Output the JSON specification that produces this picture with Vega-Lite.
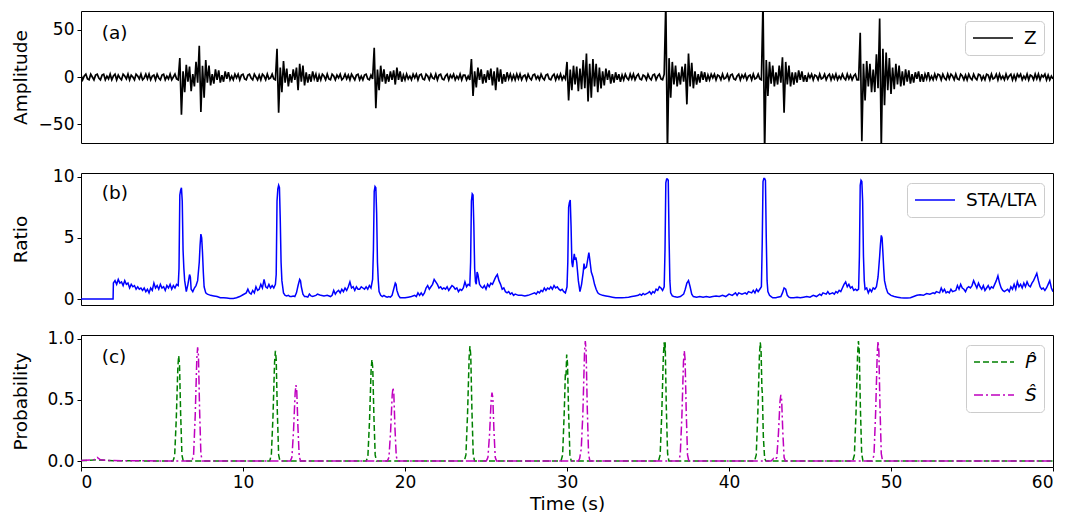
{
"$schema": "https://vega.github.io/schema/vega-lite/v6.json",
"padding": {"left": 10, "top": 10, "right": 8, "bottom": 0},
"background": "white",
"config": {
  "font": "DejaVu Sans",
  "view": {"stroke": "black", "strokeWidth": 1},
  "axis": {"labelFontSize": 17, "titleFontSize": 18.5, "titleFontWeight": "normal", "labelColor": "black", "titleColor": "black", "tickColor": "black", "domain": false, "grid": false, "tickSize": 4, "labelPadding": 3, "labelFont": "DejaVu Sans", "titleFont": "DejaVu Sans"},
  "legend": {"orient": "top-right", "offset": 9.5, "labelFontSize": 18.5, "labelFont": "DejaVu Sans", "labelColor": "black", "symbolType": "stroke", "symbolSize": 1600, "symbolStrokeWidth": 1.5, "labelOffset": 10, "padding": 7, "clipHeight": 20, "rowPadding": 13, "fillColor": "rgba(255,255,255,0.8)", "strokeColor": "#cccccc", "cornerRadius": 4},
  "text": {"font": "DejaVu Sans"}
},
"datasets": {
"wave": [
{"t":0,"z":2},{"t":0.1,"z":-3},{"t":0.2,"z":1},{"t":0.3,"z":3},{"t":0.4,"z":-2},{"t":0.5,"z":-3},{"t":0.6,"z":3},{"t":0.7,"z":0},{"t":0.8,"z":-3},{"t":0.9,"z":2},
{"t":1,"z":3},{"t":1.1,"z":-1},{"t":1.2,"z":-3},{"t":1.3,"z":2},{"t":1.4,"z":3},{"t":1.5,"z":-3},{"t":1.6,"z":1},{"t":1.7,"z":-2},{"t":1.8,"z":3},{"t":1.9,"z":-3},
{"t":2,"z":1},{"t":2.1,"z":3},{"t":2.2,"z":-3},{"t":2.3,"z":2},{"t":2.4,"z":-1},{"t":2.5,"z":-3},{"t":2.6,"z":3},{"t":2.7,"z":1},{"t":2.8,"z":-2},{"t":2.9,"z":3},
{"t":3,"z":-3},{"t":3.1,"z":2},{"t":3.2,"z":0},{"t":3.3,"z":-3},{"t":3.4,"z":3},{"t":3.5,"z":1},{"t":3.6,"z":-2},{"t":3.7,"z":3},{"t":3.8,"z":-3},{"t":3.9,"z":-1},
{"t":4,"z":3},{"t":4.1,"z":-2},{"t":4.2,"z":3},{"t":4.3,"z":-3},{"t":4.4,"z":1},{"t":4.5,"z":2},{"t":4.6,"z":-3},{"t":4.7,"z":3},{"t":4.8,"z":-1},{"t":4.9,"z":-3},
{"t":5,"z":2},{"t":5.1,"z":3},{"t":5.2,"z":-3},{"t":5.3,"z":1},{"t":5.4,"z":-2},{"t":5.5,"z":3},{"t":5.6,"z":-3},{"t":5.7,"z":0},{"t":5.8,"z":3},{"t":5.9,"z":-2},
{"t":6,"z":-3},{"t":6.1,"z":20},{"t":6.2,"z":-40},{"t":6.3,"z":6},{"t":6.4,"z":-16},{"t":6.5,"z":13},{"t":6.6,"z":-5},{"t":6.7,"z":11},{"t":6.8,"z":-15},{"t":6.9,"z":3},
{"t":7,"z":-10},{"t":7.1,"z":16},{"t":7.2,"z":-6},{"t":7.3,"z":33},{"t":7.4,"z":-37},{"t":7.5,"z":12},{"t":7.6,"z":-22},{"t":7.7,"z":18},{"t":7.8,"z":-6},{"t":7.9,"z":12},
{"t":8,"z":-9},{"t":8.1,"z":3},{"t":8.2,"z":-7},{"t":8.3,"z":8},{"t":8.4,"z":-3},{"t":8.5,"z":7},{"t":8.6,"z":-6},{"t":8.7,"z":2},{"t":8.8,"z":-5},{"t":8.9,"z":6},
{"t":9,"z":-2},{"t":9.1,"z":5},{"t":9.2,"z":-3},{"t":9.3,"z":1},{"t":9.4,"z":-3},{"t":9.5,"z":3},{"t":9.6,"z":-1},{"t":9.7,"z":3},{"t":9.8,"z":-3},{"t":9.9,"z":2},
{"t":10,"z":3},{"t":10.1,"z":-2},{"t":10.2,"z":-3},{"t":10.3,"z":2},{"t":10.4,"z":3},{"t":10.5,"z":-1},{"t":10.6,"z":-3},{"t":10.7,"z":3},{"t":10.8,"z":0},{"t":10.9,"z":-3},
{"t":11,"z":2},{"t":11.1,"z":-3},{"t":11.2,"z":3},{"t":11.3,"z":1},{"t":11.4,"z":-3},{"t":11.5,"z":3},{"t":11.6,"z":-2},{"t":11.7,"z":-1},{"t":11.8,"z":3},{"t":11.9,"z":-2},
{"t":12,"z":-3},{"t":12.1,"z":30},{"t":12.2,"z":-38},{"t":12.3,"z":10},{"t":12.4,"z":-16},{"t":12.5,"z":17},{"t":12.6,"z":-6},{"t":12.7,"z":9},{"t":12.8,"z":-10},{"t":12.9,"z":3},
{"t":13,"z":-6},{"t":13.1,"z":8},{"t":13.2,"z":-3},{"t":13.3,"z":10},{"t":13.4,"z":-14},{"t":13.5,"z":14},{"t":13.6,"z":-5},{"t":13.7,"z":12},{"t":13.8,"z":-9},{"t":13.9,"z":5},
{"t":14,"z":-6},{"t":14.1,"z":3},{"t":14.2,"z":-5},{"t":14.3,"z":6},{"t":14.4,"z":-2},{"t":14.5,"z":3},{"t":14.6,"z":-5},{"t":14.7,"z":2},{"t":14.8,"z":-3},{"t":14.9,"z":3},
{"t":15,"z":1},{"t":15.1,"z":-3},{"t":15.2,"z":3},{"t":15.3,"z":-2},{"t":15.4,"z":-3},{"t":15.5,"z":3},{"t":15.6,"z":1},{"t":15.7,"z":-3},{"t":15.8,"z":2},{"t":15.9,"z":-1},
{"t":16,"z":3},{"t":16.1,"z":-3},{"t":16.2,"z":-1},{"t":16.3,"z":3},{"t":16.4,"z":-2},{"t":16.5,"z":2},{"t":16.6,"z":-3},{"t":16.7,"z":3},{"t":16.8,"z":0},{"t":16.9,"z":-3},
{"t":17,"z":2},{"t":17.1,"z":3},{"t":17.2,"z":-3},{"t":17.3,"z":1},{"t":17.4,"z":-3},{"t":17.5,"z":2},{"t":17.6,"z":3},{"t":17.7,"z":-2},{"t":17.8,"z":-3},{"t":17.9,"z":2},
{"t":18,"z":-2},{"t":18.1,"z":31},{"t":18.2,"z":-33},{"t":18.3,"z":8},{"t":18.4,"z":-14},{"t":18.5,"z":12},{"t":18.6,"z":-5},{"t":18.7,"z":8},{"t":18.8,"z":-7},{"t":18.9,"z":3},
{"t":19,"z":-5},{"t":19.1,"z":6},{"t":19.2,"z":-3},{"t":19.3,"z":7},{"t":19.4,"z":-8},{"t":19.5,"z":10},{"t":19.6,"z":-3},{"t":19.7,"z":6},{"t":19.8,"z":-5},{"t":19.9,"z":2},
{"t":20,"z":-3},{"t":20.1,"z":3},{"t":20.2,"z":-2},{"t":20.3,"z":1},{"t":20.4,"z":-3},{"t":20.5,"z":3},{"t":20.6,"z":-1},{"t":20.7,"z":3},{"t":20.8,"z":-3},{"t":20.9,"z":2},
{"t":21,"z":3},{"t":21.1,"z":-2},{"t":21.2,"z":-3},{"t":21.3,"z":3},{"t":21.4,"z":1},{"t":21.5,"z":-3},{"t":21.6,"z":3},{"t":21.7,"z":-1},{"t":21.8,"z":-2},{"t":21.9,"z":3},
{"t":22,"z":-3},{"t":22.1,"z":2},{"t":22.2,"z":3},{"t":22.3,"z":-2},{"t":22.4,"z":-3},{"t":22.5,"z":1},{"t":22.6,"z":3},{"t":22.7,"z":-3},{"t":22.8,"z":2},{"t":22.9,"z":-1},
{"t":23,"z":3},{"t":23.1,"z":-3},{"t":23.2,"z":1},{"t":23.3,"z":-2},{"t":23.4,"z":3},{"t":23.5,"z":-3},{"t":23.6,"z":2},{"t":23.7,"z":2},{"t":23.8,"z":-3},{"t":23.9,"z":1},
{"t":24,"z":-3},{"t":24.1,"z":19},{"t":24.2,"z":-20},{"t":24.3,"z":6},{"t":24.4,"z":-11},{"t":24.5,"z":10},{"t":24.6,"z":-3},{"t":24.7,"z":8},{"t":24.8,"z":-7},{"t":24.9,"z":3},
{"t":25,"z":-6},{"t":25.1,"z":7},{"t":25.2,"z":-3},{"t":25.3,"z":9},{"t":25.4,"z":-9},{"t":25.5,"z":6},{"t":25.6,"z":-14},{"t":25.7,"z":10},{"t":25.8,"z":-5},{"t":25.9,"z":8},
{"t":26,"z":-7},{"t":26.1,"z":3},{"t":26.2,"z":-5},{"t":26.3,"z":5},{"t":26.4,"z":-2},{"t":26.5,"z":3},{"t":26.6,"z":-3},{"t":26.7,"z":2},{"t":26.8,"z":-3},{"t":26.9,"z":3},
{"t":27,"z":-2},{"t":27.1,"z":3},{"t":27.2,"z":-3},{"t":27.3,"z":1},{"t":27.4,"z":2},{"t":27.5,"z":-3},{"t":27.6,"z":3},{"t":27.7,"z":-1},{"t":27.8,"z":-3},{"t":27.9,"z":2},
{"t":28,"z":3},{"t":28.1,"z":-2},{"t":28.2,"z":1},{"t":28.3,"z":-3},{"t":28.4,"z":3},{"t":28.5,"z":-1},{"t":28.6,"z":-3},{"t":28.7,"z":2},{"t":28.8,"z":3},{"t":28.9,"z":-2},
{"t":29,"z":-3},{"t":29.1,"z":1},{"t":29.2,"z":3},{"t":29.3,"z":-3},{"t":29.4,"z":2},{"t":29.5,"z":-2},{"t":29.6,"z":3},{"t":29.7,"z":-3},{"t":29.8,"z":1},{"t":29.9,"z":-2},
{"t":30,"z":16},{"t":30.1,"z":-25},{"t":30.2,"z":8},{"t":30.3,"z":-14},{"t":30.4,"z":12},{"t":30.5,"z":-8},{"t":30.6,"z":11},{"t":30.7,"z":-15},{"t":30.8,"z":9},{"t":30.9,"z":-13},
{"t":31,"z":18},{"t":31.1,"z":-12},{"t":31.2,"z":25},{"t":31.3,"z":-26},{"t":31.4,"z":14},{"t":31.5,"z":-22},{"t":31.6,"z":19},{"t":31.7,"z":-10},{"t":31.8,"z":14},{"t":31.9,"z":-16},
{"t":32,"z":10},{"t":32.1,"z":-12},{"t":32.2,"z":6},{"t":32.3,"z":-9},{"t":32.4,"z":9},{"t":32.5,"z":-3},{"t":32.6,"z":7},{"t":32.7,"z":-7},{"t":32.8,"z":3},{"t":32.9,"z":-6},
{"t":33,"z":5},{"t":33.1,"z":-3},{"t":33.2,"z":3},{"t":33.3,"z":-5},{"t":33.4,"z":2},{"t":33.5,"z":-3},{"t":33.6,"z":3},{"t":33.7,"z":-1},{"t":33.8,"z":-3},{"t":33.9,"z":3},
{"t":34,"z":-2},{"t":34.1,"z":3},{"t":34.2,"z":-3},{"t":34.3,"z":1},{"t":34.4,"z":3},{"t":34.5,"z":-2},{"t":34.6,"z":-3},{"t":34.7,"z":2},{"t":34.8,"z":1},{"t":34.9,"z":-3},
{"t":35,"z":3},{"t":35.1,"z":-1},{"t":35.2,"z":-3},{"t":35.3,"z":2},{"t":35.4,"z":3},{"t":35.5,"z":-3},{"t":35.6,"z":1},{"t":35.7,"z":3},{"t":35.8,"z":-2},{"t":35.9,"z":-3},
{"t":36,"z":3},{"t":36.1,"z":80},{"t":36.2,"z":-80},{"t":36.3,"z":20},{"t":36.4,"z":-22},{"t":36.5,"z":16},{"t":36.6,"z":-8},{"t":36.7,"z":12},{"t":36.8,"z":-10},{"t":36.9,"z":5},
{"t":37,"z":-8},{"t":37.1,"z":11},{"t":37.2,"z":-5},{"t":37.3,"z":14},{"t":37.4,"z":-29},{"t":37.5,"z":25},{"t":37.6,"z":-10},{"t":37.7,"z":15},{"t":37.8,"z":-12},{"t":37.9,"z":6},
{"t":38,"z":-8},{"t":38.1,"z":3},{"t":38.2,"z":-6},{"t":38.3,"z":6},{"t":38.4,"z":-3},{"t":38.5,"z":5},{"t":38.6,"z":-5},{"t":38.7,"z":2},{"t":38.8,"z":-3},{"t":38.9,"z":3},
{"t":39,"z":-1},{"t":39.1,"z":3},{"t":39.2,"z":-3},{"t":39.3,"z":2},{"t":39.4,"z":1},{"t":39.5,"z":-3},{"t":39.6,"z":3},{"t":39.7,"z":-2},{"t":39.8,"z":-1},{"t":39.9,"z":3},
{"t":40,"z":-3},{"t":40.1,"z":2},{"t":40.2,"z":3},{"t":40.3,"z":-2},{"t":40.4,"z":-3},{"t":40.5,"z":1},{"t":40.6,"z":3},{"t":40.7,"z":-3},{"t":40.8,"z":2},{"t":40.9,"z":-1},
{"t":41,"z":3},{"t":41.1,"z":-3},{"t":41.2,"z":1},{"t":41.3,"z":2},{"t":41.4,"z":-3},{"t":41.5,"z":3},{"t":41.6,"z":-2},{"t":41.7,"z":-1},{"t":41.8,"z":3},{"t":41.9,"z":-2},
{"t":42,"z":-3},{"t":42.1,"z":80},{"t":42.2,"z":-80},{"t":42.3,"z":18},{"t":42.4,"z":-20},{"t":42.5,"z":16},{"t":42.6,"z":-7},{"t":42.7,"z":12},{"t":42.8,"z":-10},{"t":42.9,"z":5},
{"t":43,"z":-8},{"t":43.1,"z":12},{"t":43.2,"z":-6},{"t":43.3,"z":21},{"t":43.4,"z":-38},{"t":43.5,"z":16},{"t":43.6,"z":-8},{"t":43.7,"z":12},{"t":43.8,"z":-10},{"t":43.9,"z":5},
{"t":44,"z":-8},{"t":44.1,"z":5},{"t":44.2,"z":-6},{"t":44.3,"z":7},{"t":44.4,"z":-3},{"t":44.5,"z":6},{"t":44.6,"z":-5},{"t":44.7,"z":2},{"t":44.8,"z":-5},{"t":44.9,"z":3},
{"t":45,"z":-1},{"t":45.1,"z":3},{"t":45.2,"z":-3},{"t":45.3,"z":2},{"t":45.4,"z":1},{"t":45.5,"z":-3},{"t":45.6,"z":3},{"t":45.7,"z":-2},{"t":45.8,"z":-1},{"t":45.9,"z":3},
{"t":46,"z":-3},{"t":46.1,"z":1},{"t":46.2,"z":3},{"t":46.3,"z":-3},{"t":46.4,"z":2},{"t":46.5,"z":-2},{"t":46.6,"z":3},{"t":46.7,"z":-3},{"t":46.8,"z":1},{"t":46.9,"z":-2},
{"t":47,"z":3},{"t":47.1,"z":-1},{"t":47.2,"z":-3},{"t":47.3,"z":3},{"t":47.4,"z":-2},{"t":47.5,"z":2},{"t":47.6,"z":-3},{"t":47.7,"z":1},{"t":47.8,"z":3},{"t":47.9,"z":-3},
{"t":48,"z":-3},{"t":48.1,"z":47},{"t":48.2,"z":-68},{"t":48.3,"z":14},{"t":48.4,"z":-25},{"t":48.5,"z":17},{"t":48.6,"z":-10},{"t":48.7,"z":14},{"t":48.8,"z":-16},{"t":48.9,"z":8},
{"t":49,"z":-16},{"t":49.1,"z":24},{"t":49.2,"z":-12},{"t":49.3,"z":62},{"t":49.4,"z":-75},{"t":49.5,"z":30},{"t":49.6,"z":-30},{"t":49.7,"z":26},{"t":49.8,"z":-14},{"t":49.9,"z":20},
{"t":50,"z":-18},{"t":50.1,"z":10},{"t":50.2,"z":-13},{"t":50.3,"z":14},{"t":50.4,"z":-8},{"t":50.5,"z":12},{"t":50.6,"z":-10},{"t":50.7,"z":6},{"t":50.8,"z":-9},{"t":50.9,"z":8},
{"t":51,"z":-5},{"t":51.1,"z":7},{"t":51.2,"z":-7},{"t":51.3,"z":3},{"t":51.4,"z":-6},{"t":51.5,"z":5},{"t":51.6,"z":-2},{"t":51.7,"z":6},{"t":51.8,"z":-5},{"t":51.9,"z":3},
{"t":52,"z":-5},{"t":52.1,"z":3},{"t":52.2,"z":-2},{"t":52.3,"z":5},{"t":52.4,"z":-3},{"t":52.5,"z":1},{"t":52.6,"z":-3},{"t":52.7,"z":3},{"t":52.8,"z":-2},{"t":52.9,"z":3},
{"t":53,"z":2},{"t":53.1,"z":-3},{"t":53.2,"z":3},{"t":53.3,"z":-1},{"t":53.4,"z":-3},{"t":53.5,"z":3},{"t":53.6,"z":-2},{"t":53.7,"z":3},{"t":53.8,"z":1},{"t":53.9,"z":-3},
{"t":54,"z":3},{"t":54.1,"z":-2},{"t":54.2,"z":-3},{"t":54.3,"z":3},{"t":54.4,"z":1},{"t":54.5,"z":-3},{"t":54.6,"z":2},{"t":54.7,"z":-3},{"t":54.8,"z":3},{"t":54.9,"z":-1},
{"t":55,"z":-3},{"t":55.1,"z":3},{"t":55.2,"z":-1},{"t":55.3,"z":-3},{"t":55.4,"z":3},{"t":55.5,"z":2},{"t":55.6,"z":-3},{"t":55.7,"z":1},{"t":55.8,"z":-3},{"t":55.9,"z":3},
{"t":56,"z":2},{"t":56.1,"z":-3},{"t":56.2,"z":3},{"t":56.3,"z":-2},{"t":56.4,"z":-1},{"t":56.5,"z":3},{"t":56.6,"z":-3},{"t":56.7,"z":3},{"t":56.8,"z":-2},{"t":56.9,"z":1},
{"t":57,"z":-3},{"t":57.1,"z":3},{"t":57.2,"z":-2},{"t":57.3,"z":1},{"t":57.4,"z":3},{"t":57.5,"z":-3},{"t":57.6,"z":2},{"t":57.7,"z":-3},{"t":57.8,"z":3},{"t":57.9,"z":0},
{"t":58,"z":3},{"t":58.1,"z":-3},{"t":58.2,"z":1},{"t":58.3,"z":-2},{"t":58.4,"z":3},{"t":58.5,"z":-3},{"t":58.6,"z":2},{"t":58.7,"z":1},{"t":58.8,"z":-3},{"t":58.9,"z":3},
{"t":59,"z":-2},{"t":59.1,"z":3},{"t":59.2,"z":-3},{"t":59.3,"z":2},{"t":59.4,"z":0},{"t":59.5,"z":3},{"t":59.6,"z":-3},{"t":59.7,"z":2},{"t":59.8,"z":-3},{"t":59.9,"z":1},
{"t":60,"z":-2}
],
"sta": [
{"t":0,"r":0},{"t":1.98,"r":0},{"t":2.0,"r":1.3},{"t":2.1,"r":1.5},{"t":2.2,"r":1.2},{"t":2.3,"r":1.6},{"t":2.4,"r":1.3},{"t":2.5,"r":1.4},{"t":2.6,"r":1.1},{"t":2.7,"r":1.5},{"t":2.8,"r":1.2},{"t":2.9,"r":1.3},
{"t":3.0,"r":0.9},{"t":3.1,"r":1.2},{"t":3.2,"r":1.0},{"t":3.3,"r":1.1},{"t":3.4,"r":0.8},{"t":3.5,"r":1.0},{"t":3.6,"r":0.8},{"t":3.7,"r":0.9},{"t":3.8,"r":0.7},{"t":3.9,"r":0.9},
{"t":4.0,"r":0.6},{"t":4.1,"r":0.8},{"t":4.2,"r":0.5},{"t":4.3,"r":0.9},{"t":4.4,"r":0.7},{"t":4.5,"r":1.3},{"t":4.6,"r":0.9},{"t":4.7,"r":1.1},{"t":4.8,"r":0.8},{"t":4.9,"r":1.2},
{"t":5.0,"r":0.9},{"t":5.1,"r":1.0},{"t":5.2,"r":0.7},{"t":5.3,"r":1.1},{"t":5.4,"r":0.9},{"t":5.5,"r":1.2},{"t":5.6,"r":0.8},{"t":5.7,"r":1.1},{"t":5.8,"r":0.9},{"t":5.9,"r":1.2},
{"t":6.0,"r":1.1},{"t":6.05,"r":2.5},{"t":6.1,"r":8.5},{"t":6.15,"r":8.9},{"t":6.2,"r":9.1},{"t":6.25,"r":8.0},{"t":6.3,"r":4.0},{"t":6.35,"r":2.5},{"t":6.4,"r":1.5},{"t":6.5,"r":0.6},{"t":6.6,"r":1.2},{"t":6.7,"r":2.0},{"t":6.75,"r":1.8},{"t":6.8,"r":0.8},{"t":6.9,"r":0.6},
{"t":7.0,"r":0.9},{"t":7.1,"r":1.1},{"t":7.2,"r":1.5},{"t":7.3,"r":3.0},{"t":7.35,"r":4.4},{"t":7.4,"r":5.3},{"t":7.45,"r":5.0},{"t":7.5,"r":3.8},{"t":7.55,"r":2.2},{"t":7.6,"r":1.0},{"t":7.7,"r":0.5},{"t":7.8,"r":0.4},
{"t":8.0,"r":0.3},{"t":8.2,"r":0.25},{"t":8.4,"r":0.2},{"t":8.6,"r":0.1},{"t":8.8,"r":0.1},{"t":9.0,"r":0.08},{"t":9.2,"r":0.05},{"t":9.4,"r":0.05},{"t":9.6,"r":0.1},{"t":9.8,"r":0.2},
{"t":10.0,"r":0.35},{"t":10.2,"r":0.5},{"t":10.3,"r":0.8},{"t":10.4,"r":0.5},{"t":10.5,"r":0.4},{"t":10.6,"r":0.7},{"t":10.7,"r":0.5},{"t":10.8,"r":1.0},{"t":10.9,"r":0.7},
{"t":11.0,"r":0.8},{"t":11.1,"r":1.2},{"t":11.2,"r":0.9},{"t":11.3,"r":1.6},{"t":11.4,"r":1.0},{"t":11.5,"r":0.9},{"t":11.6,"r":1.2},{"t":11.7,"r":0.9},{"t":11.8,"r":1.1},{"t":11.9,"r":0.9},
{"t":12.0,"r":1.2},{"t":12.05,"r":2.0},{"t":12.1,"r":8.0},{"t":12.15,"r":9.0},{"t":12.2,"r":9.3},{"t":12.25,"r":9.1},{"t":12.3,"r":6.5},{"t":12.35,"r":3.0},{"t":12.4,"r":1.5},{"t":12.5,"r":0.5},{"t":12.6,"r":0.3},{"t":12.7,"r":0.25},{"t":12.8,"r":0.3},{"t":12.9,"r":0.2},
{"t":13.0,"r":0.2},{"t":13.1,"r":0.25},{"t":13.2,"r":0.2},{"t":13.3,"r":0.5},{"t":13.4,"r":1.1},{"t":13.5,"r":1.6},{"t":13.55,"r":1.5},{"t":13.6,"r":1.0},{"t":13.7,"r":0.4},{"t":13.8,"r":0.2},{"t":13.9,"r":0.2},
{"t":14.0,"r":0.15},{"t":14.1,"r":0.4},{"t":14.2,"r":0.25},{"t":14.3,"r":0.2},{"t":14.5,"r":0.3},{"t":14.6,"r":0.4},{"t":14.7,"r":0.35},{"t":14.8,"r":0.3},{"t":15.0,"r":0.25},{"t":15.2,"r":0.3},{"t":15.4,"r":0.2},{"t":15.5,"r":0.3},{"t":15.6,"r":0.7},{"t":15.7,"r":0.4},{"t":15.8,"r":0.6},{"t":15.9,"r":0.7},
{"t":16.0,"r":0.5},{"t":16.1,"r":0.8},{"t":16.2,"r":0.6},{"t":16.3,"r":0.9},{"t":16.4,"r":0.7},{"t":16.5,"r":1.0},{"t":16.6,"r":1.4},{"t":16.7,"r":0.9},{"t":16.8,"r":1.0},{"t":16.9,"r":0.7},
{"t":17.0,"r":1.0},{"t":17.1,"r":0.8},{"t":17.2,"r":0.8},{"t":17.3,"r":1.0},{"t":17.4,"r":0.9},{"t":17.5,"r":0.8},{"t":17.6,"r":1.0},{"t":17.7,"r":0.8},{"t":17.8,"r":1.1},{"t":17.9,"r":0.9},
{"t":18.0,"r":1.6},{"t":18.05,"r":4.0},{"t":18.1,"r":8.8},{"t":18.15,"r":9.2},{"t":18.2,"r":9.1},{"t":18.25,"r":7.0},{"t":18.3,"r":3.0},{"t":18.35,"r":1.5},{"t":18.4,"r":0.6},{"t":18.5,"r":0.3},{"t":18.6,"r":0.2},{"t":18.7,"r":0.3},{"t":18.8,"r":0.2},{"t":18.9,"r":0.15},
{"t":19.0,"r":0.2},{"t":19.1,"r":0.15},{"t":19.2,"r":0.3},{"t":19.3,"r":0.8},{"t":19.4,"r":1.3},{"t":19.45,"r":1.2},{"t":19.5,"r":0.7},{"t":19.6,"r":0.3},{"t":19.7,"r":0.1},{"t":19.8,"r":0.1},
{"t":20.0,"r":0.1},{"t":20.2,"r":0.15},{"t":20.4,"r":0.2},{"t":20.6,"r":0.3},{"t":20.7,"r":0.2},{"t":20.8,"r":0.5},{"t":20.9,"r":0.3},{"t":21.0,"r":0.5},{"t":21.1,"r":0.3},{"t":21.2,"r":0.5},{"t":21.3,"r":0.9},{"t":21.4,"r":1.1},{"t":21.5,"r":0.8},{"t":21.6,"r":1.0},{"t":21.7,"r":1.2},{"t":21.8,"r":1.6},{"t":21.9,"r":1.4},
{"t":22.0,"r":1.2},{"t":22.1,"r":0.9},{"t":22.2,"r":1.0},{"t":22.3,"r":0.8},{"t":22.4,"r":0.9},{"t":22.5,"r":0.8},{"t":22.6,"r":1.0},{"t":22.7,"r":0.7},{"t":22.8,"r":0.9},{"t":22.9,"r":1.1},
{"t":23.0,"r":1.0},{"t":23.1,"r":0.8},{"t":23.2,"r":0.9},{"t":23.3,"r":0.6},{"t":23.4,"r":0.8},{"t":23.5,"r":0.7},{"t":23.6,"r":0.9},{"t":23.7,"r":1.4},{"t":23.8,"r":1.0},{"t":23.9,"r":1.2},
{"t":24.0,"r":1.1},{"t":24.05,"r":3.0},{"t":24.1,"r":8.0},{"t":24.15,"r":8.6},{"t":24.2,"r":8.5},{"t":24.25,"r":6.0},{"t":24.3,"r":2.5},{"t":24.35,"r":1.4},{"t":24.4,"r":1.2},{"t":24.45,"r":2.2},{"t":24.5,"r":2.0},{"t":24.6,"r":1.2},{"t":24.7,"r":1.0},{"t":24.8,"r":0.9},{"t":24.9,"r":1.1},
{"t":25.0,"r":0.8},{"t":25.1,"r":1.2},{"t":25.2,"r":1.0},{"t":25.3,"r":1.3},{"t":25.4,"r":1.2},{"t":25.5,"r":1.5},{"t":25.6,"r":1.8},{"t":25.7,"r":2.0},{"t":25.8,"r":1.5},{"t":25.9,"r":1.2},
{"t":26.0,"r":0.8},{"t":26.1,"r":0.9},{"t":26.2,"r":0.6},{"t":26.3,"r":0.5},{"t":26.4,"r":0.6},{"t":26.5,"r":0.4},{"t":26.6,"r":0.5},{"t":26.7,"r":0.3},{"t":26.8,"r":0.4},{"t":27.0,"r":0.3},{"t":27.2,"r":0.3},{"t":27.4,"r":0.25},{"t":27.6,"r":0.3},{"t":27.8,"r":0.4},
{"t":28.0,"r":0.5},{"t":28.1,"r":0.4},{"t":28.2,"r":0.6},{"t":28.3,"r":0.5},{"t":28.4,"r":0.7},{"t":28.5,"r":0.6},{"t":28.6,"r":0.9},{"t":28.7,"r":0.7},{"t":28.8,"r":0.9},{"t":28.9,"r":0.8},
{"t":29.0,"r":1.0},{"t":29.1,"r":0.8},{"t":29.2,"r":1.1},{"t":29.3,"r":0.9},{"t":29.4,"r":1.0},{"t":29.5,"r":0.8},{"t":29.6,"r":0.7},{"t":29.7,"r":0.8},{"t":29.8,"r":0.6},{"t":29.9,"r":0.5},
{"t":30.0,"r":1.0},{"t":30.05,"r":3.0},{"t":30.1,"r":7.5},{"t":30.15,"r":7.9},{"t":30.2,"r":8.1},{"t":30.25,"r":6.0},{"t":30.3,"r":3.0},{"t":30.35,"r":2.6},{"t":30.4,"r":3.2},{"t":30.45,"r":3.7},{"t":30.5,"r":3.2},{"t":30.55,"r":3.4},{"t":30.6,"r":3.0},{"t":30.7,"r":1.5},{"t":30.8,"r":0.6},{"t":30.9,"r":1.2},
{"t":31.0,"r":2.2},{"t":31.05,"r":2.9},{"t":31.1,"r":2.5},{"t":31.2,"r":2.6},{"t":31.3,"r":3.4},{"t":31.35,"r":3.8},{"t":31.4,"r":3.3},{"t":31.5,"r":2.2},{"t":31.6,"r":1.8},{"t":31.7,"r":1.2},{"t":31.8,"r":0.8},{"t":31.9,"r":0.5},
{"t":32.0,"r":0.4},{"t":32.2,"r":0.3},{"t":32.4,"r":0.25},{"t":32.6,"r":0.2},{"t":32.8,"r":0.15},{"t":33.0,"r":0.1},{"t":33.2,"r":0.1},{"t":33.4,"r":0.1},{"t":33.6,"r":0.12},{"t":33.8,"r":0.15},
{"t":34.0,"r":0.2},{"t":34.2,"r":0.25},{"t":34.4,"r":0.3},{"t":34.5,"r":0.4},{"t":34.6,"r":0.3},{"t":34.7,"r":0.45},{"t":34.8,"r":0.35},{"t":35.0,"r":0.5},{"t":35.1,"r":0.6},{"t":35.2,"r":0.4},{"t":35.3,"r":0.6},{"t":35.4,"r":0.5},{"t":35.5,"r":0.8},{"t":35.6,"r":0.7},{"t":35.7,"r":1.0},{"t":35.8,"r":0.9},{"t":35.9,"r":0.7},
{"t":36.0,"r":1.0},{"t":36.05,"r":4.0},{"t":36.1,"r":9.5},{"t":36.15,"r":9.8},{"t":36.2,"r":9.8},{"t":36.25,"r":9.7},{"t":36.3,"r":5.0},{"t":36.35,"r":1.5},{"t":36.4,"r":0.5},{"t":36.5,"r":0.25},{"t":36.6,"r":0.2},{"t":36.8,"r":0.15},
{"t":37.0,"r":0.2},{"t":37.2,"r":0.4},{"t":37.3,"r":0.8},{"t":37.4,"r":1.3},{"t":37.5,"r":1.5},{"t":37.6,"r":1.0},{"t":37.7,"r":0.4},{"t":37.8,"r":0.2},
{"t":38.0,"r":0.15},{"t":38.2,"r":0.2},{"t":38.4,"r":0.15},{"t":38.6,"r":0.2},{"t":38.8,"r":0.15},{"t":39.0,"r":0.2},{"t":39.2,"r":0.25},{"t":39.4,"r":0.2},{"t":39.6,"r":0.3},{"t":39.8,"r":0.2},
{"t":40.0,"r":0.4},{"t":40.2,"r":0.3},{"t":40.4,"r":0.5},{"t":40.5,"r":0.3},{"t":40.6,"r":0.5},{"t":40.8,"r":0.4},{"t":41.0,"r":0.5},{"t":41.1,"r":0.4},{"t":41.2,"r":0.6},{"t":41.4,"r":0.5},{"t":41.5,"r":0.7},{"t":41.6,"r":0.5},{"t":41.7,"r":0.8},{"t":41.8,"r":0.6},{"t":41.9,"r":0.8},
{"t":42.0,"r":1.0},{"t":42.05,"r":4.5},{"t":42.1,"r":9.6},{"t":42.15,"r":9.85},{"t":42.2,"r":9.85},{"t":42.25,"r":9.7},{"t":42.3,"r":5.0},{"t":42.35,"r":1.5},{"t":42.4,"r":0.6},{"t":42.5,"r":0.3},{"t":42.6,"r":0.2},{"t":42.7,"r":0.1},{"t":42.9,"r":0.1},
{"t":43.0,"r":0.15},{"t":43.2,"r":0.2},{"t":43.3,"r":0.5},{"t":43.4,"r":0.9},{"t":43.5,"r":0.8},{"t":43.6,"r":0.3},{"t":43.7,"r":0.15},{"t":43.8,"r":0.1},
{"t":44.0,"r":0.1},{"t":44.2,"r":0.15},{"t":44.4,"r":0.1},{"t":44.6,"r":0.15},{"t":44.8,"r":0.2},{"t":45.0,"r":0.15},{"t":45.2,"r":0.3},{"t":45.4,"r":0.2},{"t":45.6,"r":0.4},{"t":45.7,"r":0.3},{"t":45.8,"r":0.5},
{"t":46.0,"r":0.4},{"t":46.1,"r":0.6},{"t":46.2,"r":0.4},{"t":46.4,"r":0.5},{"t":46.5,"r":0.4},{"t":46.6,"r":0.6},{"t":46.7,"r":0.5},{"t":46.8,"r":0.7},{"t":46.9,"r":0.6},
{"t":47.0,"r":0.9},{"t":47.1,"r":1.2},{"t":47.2,"r":1.4},{"t":47.3,"r":1.0},{"t":47.4,"r":1.2},{"t":47.5,"r":0.9},{"t":47.6,"r":1.0},{"t":47.7,"r":0.7},{"t":47.8,"r":0.8},{"t":47.9,"r":0.7},
{"t":48.0,"r":0.8},{"t":48.05,"r":3.5},{"t":48.1,"r":9.3},{"t":48.15,"r":9.7},{"t":48.2,"r":9.6},{"t":48.25,"r":8.0},{"t":48.3,"r":3.5},{"t":48.35,"r":1.5},{"t":48.4,"r":0.8},{"t":48.5,"r":0.9},{"t":48.6,"r":0.5},{"t":48.7,"r":0.8},{"t":48.8,"r":0.6},{"t":48.9,"r":0.9},
{"t":49.0,"r":0.8},{"t":49.1,"r":1.0},{"t":49.2,"r":1.8},{"t":49.3,"r":3.5},{"t":49.35,"r":4.5},{"t":49.4,"r":5.2},{"t":49.45,"r":5.0},{"t":49.5,"r":3.8},{"t":49.55,"r":2.5},{"t":49.6,"r":1.5},{"t":49.7,"r":0.9},{"t":49.8,"r":0.5},{"t":49.9,"r":0.4},
{"t":50.0,"r":0.3},{"t":50.2,"r":0.2},{"t":50.4,"r":0.15},{"t":50.6,"r":0.1},{"t":50.8,"r":0.08},{"t":51.0,"r":0.08},{"t":51.2,"r":0.1},{"t":51.4,"r":0.2},{"t":51.6,"r":0.3},{"t":51.8,"r":0.35},
{"t":52.0,"r":0.3},{"t":52.2,"r":0.45},{"t":52.4,"r":0.4},{"t":52.6,"r":0.5},{"t":52.7,"r":0.45},{"t":52.8,"r":0.6},{"t":53.0,"r":0.5},{"t":53.1,"r":0.9},{"t":53.2,"r":0.6},{"t":53.3,"r":0.8},{"t":53.4,"r":0.5},{"t":53.5,"r":0.6},{"t":53.6,"r":0.5},{"t":53.7,"r":0.8},{"t":53.8,"r":0.6},
{"t":54.0,"r":0.7},{"t":54.1,"r":1.1},{"t":54.2,"r":0.8},{"t":54.3,"r":1.2},{"t":54.4,"r":0.9},{"t":54.5,"r":0.8},{"t":54.6,"r":0.6},{"t":54.7,"r":0.9},{"t":54.8,"r":1.0},{"t":54.9,"r":0.9},
{"t":55.0,"r":1.1},{"t":55.1,"r":1.5},{"t":55.2,"r":1.2},{"t":55.3,"r":0.9},{"t":55.4,"r":1.3},{"t":55.5,"r":1.0},{"t":55.6,"r":0.8},{"t":55.7,"r":1.1},{"t":55.8,"r":0.7},{"t":55.9,"r":0.9},
{"t":56.0,"r":1.1},{"t":56.1,"r":0.8},{"t":56.2,"r":1.0},{"t":56.3,"r":0.9},{"t":56.4,"r":1.2},{"t":56.5,"r":1.5},{"t":56.6,"r":1.9},{"t":56.7,"r":1.3},{"t":56.8,"r":0.9},{"t":56.9,"r":0.7},
{"t":57.0,"r":0.6},{"t":57.2,"r":0.8},{"t":57.3,"r":0.6},{"t":57.4,"r":1.0},{"t":57.5,"r":0.8},{"t":57.6,"r":1.2},{"t":57.7,"r":0.8},{"t":57.8,"r":1.4},{"t":57.9,"r":1.0},
{"t":58.0,"r":1.2},{"t":58.1,"r":0.9},{"t":58.2,"r":1.3},{"t":58.3,"r":1.0},{"t":58.4,"r":1.4},{"t":58.5,"r":1.1},{"t":58.6,"r":1.0},{"t":58.7,"r":1.3},{"t":58.8,"r":1.5},{"t":58.9,"r":1.8},
{"t":59.0,"r":2.1},{"t":59.1,"r":1.5},{"t":59.2,"r":1.0},{"t":59.3,"r":0.8},{"t":59.4,"r":0.9},{"t":59.5,"r":0.7},{"t":59.6,"r":0.9},{"t":59.7,"r":1.2},{"t":59.8,"r":1.5},{"t":59.9,"r":0.9},{"t":60.0,"r":0.6}
],
"prob": [
{"t":0,"p":0.005,"k":"P\u0302"},{"t":0.5,"p":0.005,"k":"P\u0302"},{"t":1.0,"p":0.01,"k":"P\u0302"},{"t":1.5,"p":0.005,"k":"P\u0302"},{"t":2.0,"p":0.002,"k":"P\u0302"},
{"t":5.68,"p":0,"k":"P\u0302"},{"t":5.78,"p":0.04,"k":"P\u0302"},{"t":5.88,"p":0.34,"k":"P\u0302"},{"t":5.98,"p":0.77,"k":"P\u0302"},{"t":6.03,"p":0.86,"k":"P\u0302"},{"t":6.08,"p":0.79,"k":"P\u0302"},{"t":6.15,"p":0.39,"k":"P\u0302"},{"t":6.23,"p":0.05,"k":"P\u0302"},{"t":6.31,"p":0,"k":"P\u0302"},
{"t":11.65,"p":0,"k":"P\u0302"},{"t":11.75,"p":0.05,"k":"P\u0302"},{"t":11.85,"p":0.36,"k":"P\u0302"},{"t":11.95,"p":0.81,"k":"P\u0302"},{"t":12.0,"p":0.90,"k":"P\u0302"},{"t":12.05,"p":0.83,"k":"P\u0302"},{"t":12.12,"p":0.4,"k":"P\u0302"},{"t":12.2,"p":0.05,"k":"P\u0302"},{"t":12.28,"p":0,"k":"P\u0302"},
{"t":17.61,"p":0,"k":"P\u0302"},{"t":17.71,"p":0.04,"k":"P\u0302"},{"t":17.81,"p":0.33,"k":"P\u0302"},{"t":17.91,"p":0.75,"k":"P\u0302"},{"t":17.96,"p":0.83,"k":"P\u0302"},{"t":18.01,"p":0.76,"k":"P\u0302"},{"t":18.08,"p":0.37,"k":"P\u0302"},{"t":18.16,"p":0.05,"k":"P\u0302"},{"t":18.24,"p":0,"k":"P\u0302"},
{"t":23.66,"p":0,"k":"P\u0302"},{"t":23.76,"p":0.05,"k":"P\u0302"},{"t":23.86,"p":0.38,"k":"P\u0302"},{"t":23.96,"p":0.85,"k":"P\u0302"},{"t":24.01,"p":0.94,"k":"P\u0302"},{"t":24.06,"p":0.86,"k":"P\u0302"},{"t":24.13,"p":0.42,"k":"P\u0302"},{"t":24.21,"p":0.06,"k":"P\u0302"},{"t":24.29,"p":0,"k":"P\u0302"},
{"t":29.63,"p":0,"k":"P\u0302"},{"t":29.73,"p":0.05,"k":"P\u0302"},{"t":29.83,"p":0.4,"k":"P\u0302"},{"t":29.9,"p":0.72,"k":"P\u0302"},{"t":29.94,"p":0.7,"k":"P\u0302"},{"t":29.98,"p":0.87,"k":"P\u0302"},{"t":30.03,"p":0.8,"k":"P\u0302"},{"t":30.1,"p":0.39,"k":"P\u0302"},{"t":30.18,"p":0.05,"k":"P\u0302"},{"t":30.26,"p":0,"k":"P\u0302"},
{"t":35.65,"p":0,"k":"P\u0302"},{"t":35.75,"p":0.05,"k":"P\u0302"},{"t":35.85,"p":0.39,"k":"P\u0302"},{"t":35.95,"p":0.87,"k":"P\u0302"},{"t":36.0,"p":0.97,"k":"P\u0302"},{"t":36.03,"p":0.9,"k":"P\u0302"},{"t":36.06,"p":0.97,"k":"P\u0302"},{"t":36.13,"p":0.44,"k":"P\u0302"},{"t":36.21,"p":0.06,"k":"P\u0302"},{"t":36.29,"p":0,"k":"P\u0302"},
{"t":41.58,"p":0,"k":"P\u0302"},{"t":41.68,"p":0.05,"k":"P\u0302"},{"t":41.78,"p":0.39,"k":"P\u0302"},{"t":41.88,"p":0.87,"k":"P\u0302"},{"t":41.93,"p":0.97,"k":"P\u0302"},{"t":41.98,"p":0.9,"k":"P\u0302"},{"t":42.03,"p":0.6,"k":"P\u0302"},{"t":42.06,"p":0.55,"k":"P\u0302"},{"t":42.12,"p":0.2,"k":"P\u0302"},{"t":42.2,"p":0.02,"k":"P\u0302"},{"t":42.28,"p":0,"k":"P\u0302"},
{"t":47.64,"p":0,"k":"P\u0302"},{"t":47.74,"p":0.05,"k":"P\u0302"},{"t":47.84,"p":0.39,"k":"P\u0302"},{"t":47.94,"p":0.88,"k":"P\u0302"},{"t":47.99,"p":0.98,"k":"P\u0302"},{"t":48.04,"p":0.9,"k":"P\u0302"},{"t":48.11,"p":0.44,"k":"P\u0302"},{"t":48.19,"p":0.06,"k":"P\u0302"},{"t":48.27,"p":0,"k":"P\u0302"},
{"t":60,"p":0,"k":"P\u0302"},
{"t":0,"p":0.005,"k":"S\u0302"},{"t":0.8,"p":0.01,"k":"S\u0302"},{"t":1.0,"p":0.03,"k":"S\u0302"},{"t":1.2,"p":0.01,"k":"S\u0302"},{"t":1.6,"p":0.005,"k":"S\u0302"},{"t":2.5,"p":0.002,"k":"S\u0302"},
{"t":6.85,"p":0,"k":"S\u0302"},{"t":6.95,"p":0.05,"k":"S\u0302"},{"t":7.05,"p":0.37,"k":"S\u0302"},{"t":7.15,"p":0.84,"k":"S\u0302"},{"t":7.2,"p":0.93,"k":"S\u0302"},{"t":7.25,"p":0.86,"k":"S\u0302"},{"t":7.32,"p":0.42,"k":"S\u0302"},{"t":7.4,"p":0.06,"k":"S\u0302"},{"t":7.48,"p":0,"k":"S\u0302"},
{"t":12.92,"p":0,"k":"S\u0302"},{"t":13.02,"p":0.03,"k":"S\u0302"},{"t":13.12,"p":0.25,"k":"S\u0302"},{"t":13.22,"p":0.56,"k":"S\u0302"},{"t":13.27,"p":0.62,"k":"S\u0302"},{"t":13.32,"p":0.57,"k":"S\u0302"},{"t":13.39,"p":0.28,"k":"S\u0302"},{"t":13.47,"p":0.04,"k":"S\u0302"},{"t":13.55,"p":0,"k":"S\u0302"},
{"t":18.91,"p":0,"k":"S\u0302"},{"t":19.01,"p":0.03,"k":"S\u0302"},{"t":19.11,"p":0.24,"k":"S\u0302"},{"t":19.21,"p":0.54,"k":"S\u0302"},{"t":19.26,"p":0.6,"k":"S\u0302"},{"t":19.31,"p":0.55,"k":"S\u0302"},{"t":19.38,"p":0.27,"k":"S\u0302"},{"t":19.46,"p":0.04,"k":"S\u0302"},{"t":19.54,"p":0,"k":"S\u0302"},
{"t":25.02,"p":0,"k":"S\u0302"},{"t":25.12,"p":0.03,"k":"S\u0302"},{"t":25.22,"p":0.22,"k":"S\u0302"},{"t":25.32,"p":0.5,"k":"S\u0302"},{"t":25.37,"p":0.56,"k":"S\u0302"},{"t":25.42,"p":0.52,"k":"S\u0302"},{"t":25.49,"p":0.25,"k":"S\u0302"},{"t":25.57,"p":0.03,"k":"S\u0302"},{"t":25.65,"p":0,"k":"S\u0302"},
{"t":30.7,"p":0,"k":"S\u0302"},{"t":30.78,"p":0.02,"k":"S\u0302"},{"t":30.88,"p":0.1,"k":"S\u0302"},{"t":30.98,"p":0.39,"k":"S\u0302"},{"t":31.08,"p":0.88,"k":"S\u0302"},{"t":31.13,"p":0.98,"k":"S\u0302"},{"t":31.18,"p":0.9,"k":"S\u0302"},{"t":31.25,"p":0.44,"k":"S\u0302"},{"t":31.33,"p":0.06,"k":"S\u0302"},{"t":31.41,"p":0,"k":"S\u0302"},
{"t":36.89,"p":0,"k":"S\u0302"},{"t":36.99,"p":0.05,"k":"S\u0302"},{"t":37.09,"p":0.36,"k":"S\u0302"},{"t":37.19,"p":0.81,"k":"S\u0302"},{"t":37.24,"p":0.9,"k":"S\u0302"},{"t":37.29,"p":0.83,"k":"S\u0302"},{"t":37.36,"p":0.4,"k":"S\u0302"},{"t":37.44,"p":0.05,"k":"S\u0302"},{"t":37.52,"p":0,"k":"S\u0302"},
{"t":42.6,"p":0,"k":"S\u0302"},{"t":42.75,"p":0.02,"k":"S\u0302"},{"t":42.85,"p":0.01,"k":"S\u0302"},{"t":42.95,"p":0.03,"k":"S\u0302"},{"t":43.05,"p":0.22,"k":"S\u0302"},{"t":43.15,"p":0.49,"k":"S\u0302"},{"t":43.2,"p":0.54,"k":"S\u0302"},{"t":43.25,"p":0.5,"k":"S\u0302"},{"t":43.32,"p":0.24,"k":"S\u0302"},{"t":43.4,"p":0.03,"k":"S\u0302"},{"t":43.48,"p":0,"k":"S\u0302"},
{"t":48.85,"p":0,"k":"S\u0302"},{"t":48.95,"p":0.05,"k":"S\u0302"},{"t":49.05,"p":0.39,"k":"S\u0302"},{"t":49.15,"p":0.88,"k":"S\u0302"},{"t":49.2,"p":0.98,"k":"S\u0302"},{"t":49.25,"p":0.9,"k":"S\u0302"},{"t":49.32,"p":0.44,"k":"S\u0302"},{"t":49.4,"p":0.06,"k":"S\u0302"},{"t":49.48,"p":0,"k":"S\u0302"},
{"t":60,"p":0,"k":"S\u0302"}
]
},
"spacing": 30,
"bounds": "flush",
"resolve": {"scale": {"y": "independent", "color": "independent", "strokeDash": "independent"}, "legend": {"color": "independent", "strokeDash": "independent"}},
"vconcat": [
{
  "width": 972, "height": 132,
  "layer": [
    {
      "data": {"name": "wave"},
      "mark": {"type": "line", "strokeWidth": 1.7, "clip": true},
      "encoding": {
        "x": {"field": "t", "type": "quantitative", "scale": {"domain": [0, 60], "nice": false}, "axis": null},
        "y": {"field": "z", "type": "quantitative", "scale": {"domain": [-70, 70], "nice": false}, "axis": {"values": [-50, 0, 50], "title": "Amplitude", "titleX": -55, "titleBaseline": "alphabetic"}},
        "color": {"datum": "Z", "scale": {"domain": ["Z"], "range": ["black"]}, "legend": {"title": null}}
      }
    },
    {
      "data": {"values": [{"label": "(a)"}]},
      "mark": {"type": "text", "align": "left", "baseline": "middle", "fontSize": 18.5, "color": "black"},
      "encoding": {"x": {"datum": 1.28}, "y": {"datum": 47}, "text": {"field": "label"}}
    }
  ]
},
{
  "width": 972, "height": 132,
  "layer": [
    {
      "data": {"name": "sta"},
      "mark": {"type": "line", "strokeWidth": 1.5, "clip": true},
      "encoding": {
        "x": {"field": "t", "type": "quantitative", "scale": {"domain": [0, 60], "nice": false}, "axis": null},
        "y": {"field": "r", "type": "quantitative", "scale": {"domain": [-0.49, 10.3], "nice": false, "zero": false}, "axis": {"values": [0, 5, 10], "title": "Ratio", "titleX": -55, "titleBaseline": "alphabetic"}},
        "color": {"datum": "STA/LTA", "scale": {"domain": ["STA/LTA"], "range": ["#0000ff"]}, "legend": {"title": null}}
      }
    },
    {
      "data": {"values": [{"label": "(b)"}]},
      "mark": {"type": "text", "align": "left", "baseline": "middle", "fontSize": 18.5, "color": "black"},
      "encoding": {"x": {"datum": 1.28}, "y": {"datum": 8.7}, "text": {"field": "label"}}
    }
  ]
},
{
  "width": 972, "height": 132,
  "layer": [
    {
      "data": {"name": "prob"},
      "mark": {"type": "line", "strokeWidth": 1.5, "clip": true},
      "encoding": {
        "x": {"field": "t", "type": "quantitative", "scale": {"domain": [0, 60], "nice": false}, "axis": {"values": [0, 10, 20, 30, 40, 50, 60], "format": "d", "title": "Time (s)", "titleY": 42.5, "titleBaseline": "alphabetic"}},
        "y": {"field": "p", "type": "quantitative", "scale": {"domain": [-0.049, 1.03], "nice": false, "zero": false}, "axis": {"values": [0, 0.5, 1], "format": ".1f", "title": "Probability", "titleX": -55, "titleBaseline": "alphabetic"}},
        "color": {"field": "k", "type": "nominal", "scale": {"domain": ["P\u0302", "S\u0302"], "range": ["#008000", "#bf00bf"]}, "legend": {"title": null, "labelFontStyle": "italic"}},
        "strokeDash": {"field": "k", "type": "nominal", "scale": {"domain": ["P\u0302", "S\u0302"], "range": [[6, 3], [9, 3, 2, 3]]}, "legend": {"title": null, "labelFontStyle": "italic"}}
      }
    },
    {
      "data": {"values": [{"label": "(c)"}]},
      "mark": {"type": "text", "align": "left", "baseline": "middle", "fontSize": 18.5, "color": "black"},
      "encoding": {"x": {"datum": 1.28}, "y": {"datum": 0.85}, "text": {"field": "label"}}
    }
  ]
}
]
}
